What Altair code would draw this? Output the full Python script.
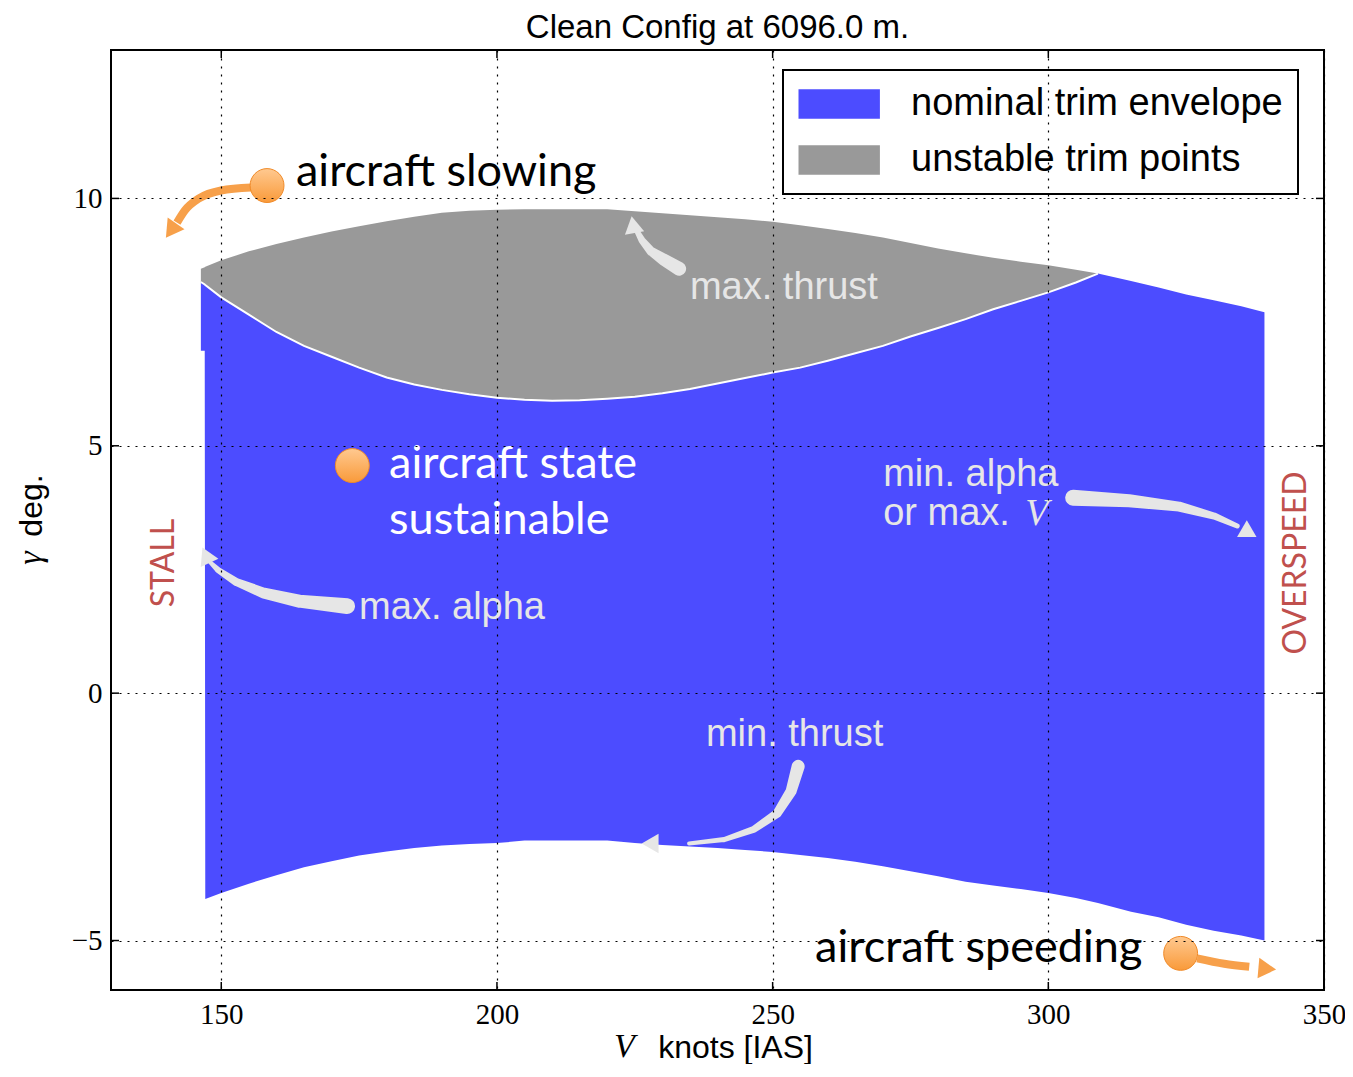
import altair as alt
import pandas as pd

# ---------------- data ----------------
V_KTS = [146.3, 147.0, 147.1, 150, 155, 160, 165, 170, 175, 180, 185, 190, 195, 200,
         205, 210, 215, 220, 225, 230, 235, 240, 245, 250, 255, 260, 265, 270, 275,
         280, 285, 290, 295, 300, 305, 309, 315, 320, 325, 330, 335, 339.2]
MAX_THRUST = [8.58, 8.61, 8.62, 8.75, 8.93, 9.08, 9.21, 9.33, 9.44, 9.54, 9.63, 9.71, 9.75, 9.77,
              9.78, 9.78, 9.78, 9.78, 9.74, 9.70, 9.66, 9.62, 9.58, 9.53, 9.46, 9.38, 9.30, 9.21, 9.10,
              8.99, 8.89, 8.80, 8.72, 8.65, 8.56, 8.48, 8.33, 8.20, 8.06, 7.94, 7.82, 7.70]
STAB_LIMIT = [8.31, 8.26, 8.25, 8.00, 7.65, 7.30, 7.02, 6.80, 6.58, 6.38, 6.24, 6.13, 6.04, 5.97,
              5.93, 5.91, 5.92, 5.95, 5.99, 6.06, 6.15, 6.26, 6.37, 6.48, 6.58, 6.72, 6.87, 7.02, 7.21,
              7.38, 7.56, 7.76, 7.93, 8.10, 8.30, 8.48, None, None, None, None, None, None]
MIN_THRUST = [6.92, 6.92, -4.16, -4.04, -3.85, -3.68, -3.52, -3.40, -3.28, -3.20, -3.13, -3.08, -3.05, -3.03,
              -2.98, -2.98, -2.98, -2.98, -3.03, -3.07, -3.10, -3.13, -3.17, -3.21, -3.27, -3.33, -3.41, -3.50, -3.60,
              -3.70, -3.81, -3.89, -3.96, -4.04, -4.14, -4.24, -4.42, -4.53, -4.68, -4.80, -4.90, -5.00]

SERIES = ["nominal trim envelope", "unstable trim points"]
SERIES_COLORS = ["#4c4cff", "#999999"]

X_TICKS = [150, 200, 250, 300, 350]
Y_TICKS = [-5, 0, 5, 10]
X_DOMAIN = [130, 350]
Y_DOMAIN = [-6, 13]

TITLE = "Clean Config at 6096.0 m."

# annotation texts (data coordinates)
BLACK_TEXT = ["aircraft slowing", "aircraft speeding"]
BLACK_V = [163.55, 257.7]
BLACK_G = [10.26, -5.43]

WHITE_TEXT = ["aircraft state", "sustainable"]
WHITE_V = [180.43, 180.43]
WHITE_G = [4.34, 3.22]

RED_TEXT = ["STALL", "OVERSPEED"]
RED_V = [139.6, 345.0]
RED_G = [2.63, 2.63]

LIGHT_TEXT = ["max. thrust", "max. alpha", "min. alpha", "or max.", "min. thrust"]
LIGHT_V = [235.0, 175.0, 270.05, 270.05, 237.9]
LIGHT_G = [7.96, 1.50, 4.19, 3.40, -1.07]

ITALIC_TEXT = ["V"]
ITALIC_V = [295.8]
ITALIC_G = [3.40]

# orange state markers
DOT_V = [158.3, 173.77, 324.0]
DOT_G = [10.26, 4.60, -5.26]

# light-grey curved arrows
LA_ID = ["thr"] * 5 + ["alp"] * 6 + ["mina"] * 5 + ["mint"] * 6
LA_V = [233.04, 230.14, 227.96, 226.33, 225.24,
        172.81, 164.10, 157.75, 152.68, 149.41, 147.96,
        304.51, 314.67, 323.74, 330.09, 334.26,
        254.63, 253.36, 250.82, 246.64, 241.20, 234.85]
LA_G = [8.58, 8.77, 8.93, 9.15, 9.37,
        1.76, 1.86, 2.02, 2.25, 2.49, 2.65,
        3.95, 3.89, 3.77, 3.58, 3.38,
        -1.48, -1.98, -2.43, -2.75, -2.96, -3.04]
LA_W = [14, 12, 9, 7, 5,
        16, 13, 11, 8, 6, 4,
        16, 13, 10, 7, 5,
        13, 11, 9, 7, 5, 4]
LH_V = [224.69, 147.23, 336.44, 227.78]
LH_G = [9.47, 2.79, 3.24, -3.04]
LH_ANGLE = [350, 335, 120, 270]

# orange arrows
OA_ID = ["slow"] * 5 + ["speed"] * 3
OA_V = [155.40, 149.95, 145.96, 143.42, 141.97, 327.0, 331.9, 336.44]
OA_G = [10.22, 10.16, 10.00, 9.76, 9.51, -5.36, -5.47, -5.53]
OH_V = [140.88, 339.71]
OH_G = [9.35, -5.57]
OH_ANGLE = [215, 95]

# ---------------- tables ----------------
env = pd.DataFrame({"V": V_KTS, "max": MAX_THRUST, "stab": STAB_LIMIT, "min": MIN_THRUST})
blue = env.copy()
blue["hi"] = [s if s is not None and not pd.isna(s) else m for s, m in zip(env["stab"], env["max"])]
blue["series"] = SERIES[0]
gray = env.dropna(subset=["stab"]).copy()
gray["series"] = SERIES[1]

xs = alt.Scale(domain=X_DOMAIN, nice=False, zero=False)
ys = alt.Scale(domain=Y_DOMAIN, nice=False, zero=False)
color_scale = alt.Scale(domain=SERIES, range=SERIES_COLORS)

W, H = 1213, 940
tick_dy = 8 * (Y_DOMAIN[1] - Y_DOMAIN[0]) / H
tick_dx = 8 * (X_DOMAIN[1] - X_DOMAIN[0]) / W

legend = alt.Legend(
    title=None, orient="none", legendX=672, legendY=20,
    symbolType="M-1,-0.8H3.4V0.8H-1Z", symbolSize=1369, symbolStrokeWidth=0,
    symbolOpacity=1,
    labelFont="Liberation Sans", labelFontSize=38, labelColor="black",
    labelOffset=75, labelLimit=0, rowPadding=18, padding=15,
    strokeColor="black", fillColor="white",
)

x_axis = alt.Axis(
    values=X_TICKS, grid=True, gridDash=[2, 6], gridColor="black", gridWidth=1.2, gridOpacity=1,
    ticks=False, domain=False, labelFont="Liberation Serif", labelFontSize=29,
    labelColor="black", labelPadding=10, labelFlush=False, labelOverlap=False,
    title="knots [IAS]", titleFont="Liberation Sans", titleFontSize=32, titleFontWeight="normal",
    titleColor="black", titleX=624, titleY=67, titleBaseline="alphabetic", titleAlign="center",
    zindex=1,
)
y_axis = alt.Axis(
    values=Y_TICKS, grid=True, gridDash=[2, 6], gridColor="black", gridWidth=1.2, gridOpacity=1,
    ticks=False, domain=False, labelFont="Liberation Serif", labelFontSize=29,
    labelColor="black", labelPadding=9, labelFlush=False, labelOverlap=False,
    title="deg.", titleFont="Liberation Sans", titleFontSize=32, titleFontWeight="normal",
    titleColor="black", titleX=-70, titleY=455, titleAngle=270, titleBaseline="alphabetic",
    titleAlign="center", zindex=1,
)

blue_area = alt.Chart(blue).mark_area(opacity=1).encode(
    x=alt.X("V:Q", scale=xs, axis=x_axis),
    y=alt.Y("min:Q", scale=ys, axis=y_axis),
    y2="hi:Q",
    color=alt.Color("series:N", scale=color_scale, legend=legend),
)
gray_area = alt.Chart(gray).mark_area(opacity=1).encode(
    x=alt.X("V:Q", scale=xs),
    y=alt.Y("stab:Q", scale=ys),
    y2="max:Q",
    color=alt.Color("series:N", scale=color_scale, legend=legend),
)
boundary = alt.Chart(gray).mark_line(color="white", strokeWidth=2).encode(
    x=alt.X("V:Q", scale=xs), y=alt.Y("stab:Q", scale=ys)
)

# inward ticks on all four sides
xt = pd.DataFrame({"t": X_TICKS})
yt = pd.DataFrame({"t": Y_TICKS})
xt_bot = alt.Chart(xt).transform_calculate(a=str(Y_DOMAIN[0]), b=str(Y_DOMAIN[0] + tick_dy)).mark_rule(
    color="black", strokeWidth=1.5).encode(x=alt.X("t:Q", scale=xs), y=alt.Y("a:Q", scale=ys), y2="b:Q")
xt_top = alt.Chart(xt).transform_calculate(a=str(Y_DOMAIN[1]), b=str(Y_DOMAIN[1] - tick_dy)).mark_rule(
    color="black", strokeWidth=1.5).encode(x=alt.X("t:Q", scale=xs), y=alt.Y("a:Q", scale=ys), y2="b:Q")
yt_left = alt.Chart(yt).transform_calculate(a=str(X_DOMAIN[0]), b=str(X_DOMAIN[0] + tick_dx)).mark_rule(
    color="black", strokeWidth=1.5).encode(y=alt.Y("t:Q", scale=ys), x=alt.X("a:Q", scale=xs), x2="b:Q")
yt_right = alt.Chart(yt).transform_calculate(a=str(X_DOMAIN[1]), b=str(X_DOMAIN[1] - tick_dx)).mark_rule(
    color="black", strokeWidth=1.5).encode(y=alt.Y("t:Q", scale=ys), x=alt.X("a:Q", scale=xs), x2="b:Q")

# arrows
la = pd.DataFrame({"id": LA_ID, "V": LA_V, "g": LA_G, "w": LA_W})
la["i"] = range(len(la))
light_arrows = alt.Chart(la).mark_trail(color="#e6e6e6").encode(
    x=alt.X("V:Q", scale=xs), y=alt.Y("g:Q", scale=ys),
    size=alt.Size("w:Q", scale=None), detail="id:N", order="i:Q",
)
lh = pd.DataFrame({"V": LH_V, "g": LH_G, "a": LH_ANGLE})
light_heads = alt.Chart(lh).mark_point(shape="triangle-up", filled=True, color="#e6e6e6", size=380,
                                        opacity=1).encode(
    x=alt.X("V:Q", scale=xs), y=alt.Y("g:Q", scale=ys), angle=alt.Angle("a:Q", scale=None)
)

oa = pd.DataFrame({"id": OA_ID, "V": OA_V, "g": OA_G})
oa["i"] = range(len(oa))
orange_arrows = alt.Chart(oa).mark_line(color="#f7a04a", strokeWidth=8, interpolate="monotone").encode(
    x=alt.X("V:Q", scale=xs), y=alt.Y("g:Q", scale=ys), detail="id:N", order="i:Q",
)
oh = pd.DataFrame({"V": OH_V, "g": OH_G, "a": OH_ANGLE})
orange_heads = alt.Chart(oh).mark_point(shape="triangle-up", filled=True, color="#f7a04a", size=420,
                                         opacity=1).encode(
    x=alt.X("V:Q", scale=xs), y=alt.Y("g:Q", scale=ys), angle=alt.Angle("a:Q", scale=None)
)

dots = alt.Chart(pd.DataFrame({"V": DOT_V, "g": DOT_G})).mark_point(
    shape="circle", size=1150, opacity=1, strokeWidth=1, stroke="#f08a28",
    fill=alt.Gradient(gradient="linear", x1=0, y1=0, x2=0, y2=1,
                      stops=[alt.GradientStop(color="#ffc990", offset=0),
                             alt.GradientStop(color="#f99a3a", offset=1)]),
).encode(x=alt.X("V:Q", scale=xs), y=alt.Y("g:Q", scale=ys))


def text_layer(texts, vs, gs, **kw):
    df = pd.DataFrame({"t": texts, "V": vs, "g": gs})
    return alt.Chart(df).mark_text(**kw).encode(
        x=alt.X("V:Q", scale=xs), y=alt.Y("g:Q", scale=ys), text="t:N")


black_txt = text_layer(BLACK_TEXT, BLACK_V, BLACK_G, font="Lato", fontSize=45, color="black",
                       align="left", baseline="alphabetic")
white_txt = text_layer(WHITE_TEXT, WHITE_V, WHITE_G, font="Lato", fontSize=45, color="white",
                       align="left", baseline="alphabetic")
red_txt = text_layer(RED_TEXT, RED_V, RED_G, font="Lato", fontSize=32, color="#c0504d",
                     align="center", baseline="middle", angle=270)
light_txt = text_layer(LIGHT_TEXT, LIGHT_V, LIGHT_G, font="Liberation Sans", fontSize=38,
                       color="#e6e6e6", align="left", baseline="alphabetic")
italic_txt = text_layer(ITALIC_TEXT, ITALIC_V, ITALIC_G, font="Liberation Serif", fontSize=38,
                        fontStyle="italic", color="#e6e6e6", align="left", baseline="alphabetic")

# title and italic math symbols of the axis titles
title_txt = alt.Chart(pd.DataFrame({"t": [TITLE]})).mark_text(
    font="Liberation Sans", fontSize=33, color="black", align="center",
    baseline="alphabetic").encode(text="t:N", x=alt.value(W / 2), y=alt.value(-12))
xsym = alt.Chart(pd.DataFrame({"t": ["V"]})).mark_text(
    font="Liberation Serif", fontStyle="italic", fontSize=34, color="black", align="left",
    baseline="alphabetic").encode(text="t:N", x=alt.value(503), y=alt.value(1007))
ysym = alt.Chart(pd.DataFrame({"t": ["γ"]})).mark_text(
    font="Liberation Serif", fontStyle="italic", fontSize=34, color="black", align="center",
    baseline="alphabetic", angle=270).encode(text="t:N", x=alt.value(-70), y=alt.value(508))

chart = alt.layer(
    blue_area, gray_area, boundary,
    xt_bot, xt_top, yt_left, yt_right,
    light_arrows, light_heads, orange_arrows, orange_heads, dots,
    black_txt, white_txt, red_txt, light_txt, italic_txt, title_txt, xsym, ysym,
).properties(
    width=W, height=H,
    autosize=alt.AutoSizeParams(type="none"),
    padding={"left": 103, "top": 42, "right": 21, "bottom": 74},
).configure_view(
    stroke="black", strokeWidth=2
).configure_legend(
    strokeWidth=2
)

chart.save("out.html", embed_options={"renderer": "svg", "actions": False})
